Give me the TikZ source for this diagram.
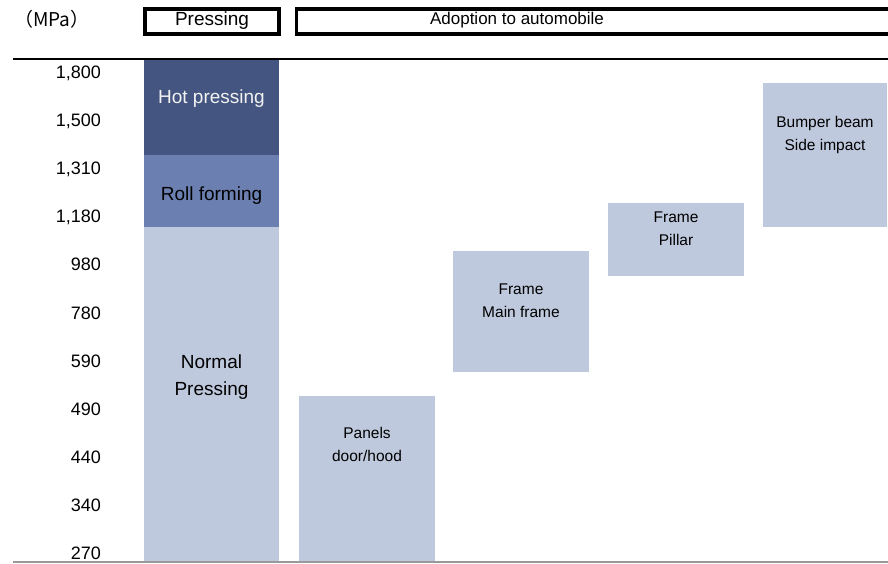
\documentclass[tikz,border=0pt]{standalone}
\usepackage{fontspec}
\setmainfont{Liberation Sans}
\newfontfamily\cjk{Noto Sans CJK JP}

\definecolor{hotblue}{RGB}{67,85,128}
\definecolor{rollblue}{RGB}{107,128,177}
\definecolor{paleblue}{RGB}{191,201,221}

\begin{document}
\begin{tikzpicture}[x=1pt,y=-1pt,
	headbox/.style={draw=black, line width=3.4pt},
	bigtxt/.style={font=\fontsize{19}{27}\selectfont, align=center, inner sep=0pt, anchor=base},
	smalltxt/.style={font=\fontsize{15.5}{23}\selectfont, align=center, inner sep=0pt, anchor=base},
	mpatxt/.style={font=\fontsize{18}{22}\selectfont, inner sep=0pt, anchor=base east}]
	\clip (0,0) rectangle (888,563);
	\useasboundingbox (0,0) rectangle (888,563);

	%% headers
	\node[font=\cjk\fontsize{19}{22}\selectfont, inner sep=0pt] (unit) at (52,19) {（MPa）};
	\draw[headbox] (145,9) rectangle (279,34);
	\node[font=\fontsize{19}{22}\selectfont, inner sep=0pt] (press) at (212,20.5) {Pressing};
	\draw[headbox] (296.5,9) rectangle (895,34);
	\node[font=\fontsize{17}{20}\selectfont, inner sep=0pt] (adopt) at (517,20.5) {Adoption to automobile};
	\draw[line width=1.8pt] (13,59) -- (888,59);

	%% pressing column
	\fill[hotblue] (144,60) rectangle (279,155);
	\fill[rollblue] (144,155) rectangle (279,227);
	\fill[paleblue] (144,227) rectangle (279,562);
	\node[bigtxt, text=white!95!black] (hot) at (211.5,103) {Hot pressing};
	\node[bigtxt] (roll) at (211.5,200) {Roll forming};
	%% base anchor sits on the last line
	\node[bigtxt] (normal) at (211.5,395) {Normal\\Pressing};

	%% adoption boxes
	\fill[paleblue] (299,396) rectangle (435,562);
	\node[smalltxt] (panels) at (367,461) {Panels\\door/hood};
	\fill[paleblue] (453,251) rectangle (589,372);
	\node[smalltxt] (mainframe) at (521,317) {Frame\\Main frame};
	\fill[paleblue] (608,203) rectangle (744,276);
	\node[smalltxt] (pillar) at (676,245) {Frame\\Pillar};
	\fill[paleblue] (763,83) rectangle (887,227);
	\node[smalltxt] (bumper) at (825,150) {Bumper beam\\Side impact};

	%% strength axis
	\foreach \val [count=\k from 0] in {1{,}800,1{,}500,1{,}310,1{,}180,980,780,590,490,440,340,270}
		\node[mpatxt] (mpa\k) at (101,78.5+48.1*\k) {\val};
	\draw[gray!80, line width=1.2pt] (13,562) -- (888,562);
\end{tikzpicture}
\end{document}
